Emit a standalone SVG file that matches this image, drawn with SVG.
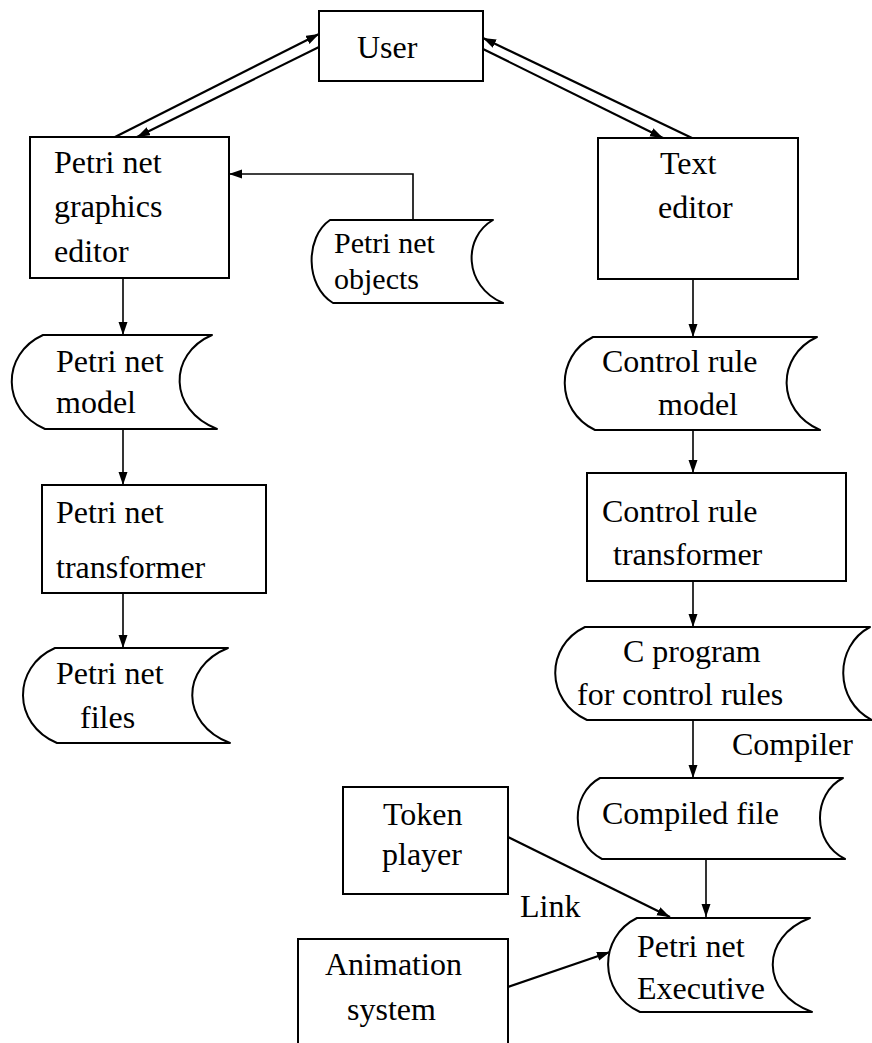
<svg xmlns="http://www.w3.org/2000/svg" width="872" height="1043" viewBox="0 0 872 1043">
  <style>
    .box { fill: #fff; stroke: #000; stroke-width: 2; }
    .doc { fill: #fff; stroke: #000; stroke-width: 2; stroke-linejoin: round; }
    .lbl { font-family: "Liberation Serif", "DejaVu Serif", serif; font-size: 32px; fill: #000; }
    .tight { font-size: 30px; }
    .con { fill: none; stroke: #000; stroke-width: 1.6; }
    .con2 { fill: none; stroke: #000; stroke-width: 2.2; }
  </style>
  <defs>
    <marker id="arrow" markerUnits="userSpaceOnUse" markerWidth="14" markerHeight="10" refX="13" refY="4.5" orient="auto">
      <path d="M0,0 L13,4.5 L0,9 z" fill="#000"/>
    </marker>
  </defs>
  <rect width="872" height="1043" fill="#fff"/>

  <!-- connectors -->
  <g id="connectors">
    <line class="con2" x1="115" y1="137" x2="319" y2="34" marker-end="url(#arrow)"/>
    <line class="con2" x1="319" y1="47" x2="137" y2="137" marker-end="url(#arrow)"/>
    <line class="con2" x1="483" y1="49" x2="663" y2="138" marker-end="url(#arrow)"/>
    <line class="con2" x1="692" y1="138" x2="483" y2="38" marker-end="url(#arrow)"/>
    <polyline class="con" points="413,220 413,174 229,174" marker-end="url(#arrow)"/>
    <line class="con" x1="123" y1="278" x2="123" y2="335" marker-end="url(#arrow)"/>
    <line class="con" x1="123" y1="429" x2="123" y2="485" marker-end="url(#arrow)"/>
    <line class="con" x1="123" y1="593" x2="123" y2="648" marker-end="url(#arrow)"/>
    <line class="con" x1="693" y1="279" x2="693" y2="337" marker-end="url(#arrow)"/>
    <line class="con" x1="693" y1="430" x2="693" y2="473" marker-end="url(#arrow)"/>
    <line class="con" x1="693" y1="581" x2="693" y2="627" marker-end="url(#arrow)"/>
    <line class="con" x1="693" y1="720" x2="693" y2="778" marker-end="url(#arrow)"/>
    <line class="con" x1="706" y1="859" x2="706" y2="917" marker-end="url(#arrow)"/>
    <line class="con2" x1="508" y1="837" x2="670" y2="917" marker-end="url(#arrow)"/>
    <line class="con2" x1="508" y1="987" x2="610" y2="952" marker-end="url(#arrow)"/>
    <text class="lbl" x="732" y="755">Compiler</text>
    <text class="lbl" x="520" y="917">Link</text>
  </g>

  <g id="user">
    <rect class="box" x="319" y="11" width="164" height="70"/>
    <text class="lbl" x="357" y="58">User</text>
  </g>

  <g id="graphics-editor">
    <rect class="box" x="30" y="137" width="199" height="141"/>
    <text class="lbl" x="54" y="173">Petri net</text>
    <text class="lbl" x="54" y="217">graphics</text>
    <text class="lbl" x="54" y="262">editor</text>
  </g>

  <g id="text-editor">
    <rect class="box" x="598" y="138" width="200" height="141"/>
    <text class="lbl" x="660" y="174">Text</text>
    <text class="lbl" x="658" y="218">editor</text>
  </g>

  <g id="net-objects">
    <path class="doc" d="M330,220 H493 C463,237 463,286 503,303 H333 C305,286 305,237 330,220 Z"/>
    <text class="lbl tight" x="334" y="253">Petri net</text>
    <text class="lbl tight" x="334" y="289">objects</text>
  </g>

  <g id="net-model">
    <path class="doc" d="M43,335 H212 C168,354 168,410 217,429 H45 C1,410 1,354 43,335 Z"/>
    <text class="lbl" x="56" y="372">Petri net</text>
    <text class="lbl" x="56" y="413">model</text>
  </g>

  <g id="net-transformer">
    <rect class="box" x="42" y="485" width="224" height="108"/>
    <text class="lbl" x="56" y="523">Petri net</text>
    <text class="lbl" x="56" y="578">transformer</text>
  </g>

  <g id="net-files">
    <path class="doc" d="M55,648 H228 C180,667 180,724 230,743 H57 C12,724 12,667 55,648 Z"/>
    <text class="lbl" x="56" y="684">Petri net</text>
    <text class="lbl" x="80" y="728">files</text>
  </g>

  <g id="rule-model">
    <path class="doc" d="M593,337 H817 C776,356 776,411 820,430 H595 C555,411 555,356 593,337 Z"/>
    <text class="lbl" x="602" y="372">Control rule</text>
    <text class="lbl" x="658" y="415">model</text>
  </g>

  <g id="rule-transformer">
    <rect class="box" x="587" y="473" width="259" height="108"/>
    <text class="lbl" x="602" y="522">Control rule</text>
    <text class="lbl" x="613" y="565">transformer</text>
  </g>

  <g id="c-program">
    <path class="doc" d="M585,627 H870 C834,646 834,701 872,720 H587 C545,701 545,646 585,627 Z"/>
    <text class="lbl" x="623" y="662">C program</text>
    <text class="lbl" x="577" y="705">for control rules</text>
  </g>

  <g id="compiled-file">
    <path class="doc" d="M600,778 H843 C812,794 812,843 845,859 H602 C570,843 570,794 600,778 Z"/>
    <text class="lbl" x="602" y="824">Compiled file</text>
  </g>

  <g id="executive">
    <path class="doc" d="M637,918 H810 C760,937 760,993 812,1012 H640 C598,993 598,937 637,918 Z"/>
    <text class="lbl" x="637" y="957">Petri net</text>
    <text class="lbl" x="637" y="999">Executive</text>
  </g>

  <g id="token-player">
    <rect class="box" x="343" y="787" width="165" height="107"/>
    <text class="lbl" x="383" y="825">Token</text>
    <text class="lbl" x="382" y="865">player</text>
  </g>

  <g id="animation-system">
    <rect class="box" x="298" y="939" width="210" height="120"/>
    <text class="lbl" x="325" y="975">Animation</text>
    <text class="lbl" x="347" y="1020">system</text>
  </g>
</svg>
